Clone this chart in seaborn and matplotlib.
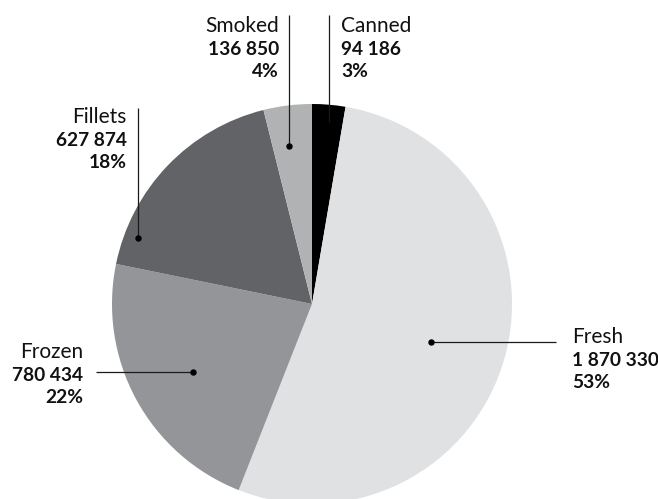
import matplotlib
matplotlib.use("Agg")
import matplotlib.pyplot as plt
import seaborn as sns

sns.set_theme(style="white")
plt.rcParams['font.family'] = ['Lato', 'DejaVu Sans']

# ---- data ----
categories = ["Canned", "Fresh", "Frozen", "Fillets", "Smoked"]
values = [94186, 1870330, 780434, 627874, 136850]
colors = ["#000000", "#e0e1e3", "#939598", "#626366", "#b0b2b4"]

total = sum(values)
percents = [round(v / total * 100) for v in values]

# ---- layout (pixel coords, y from top) ----
W, H = 658, 499
CX, CY, R = 312, 304, 200
# label anchor x, alignment, first baseline, leader line (x0,y0)->(x1,y1) with dot at end
layout = {
    "Canned": dict(x=341, ha="left", y=32, line=((329, 15), (329, 125))),
    "Fresh": dict(x=572, ha="left", y=343, line=((556, 342), (431, 342))),
    "Frozen": dict(x=83, ha="right", y=358, line=((96, 372), (193, 372))),
    "Fillets": dict(x=127, ha="right", y=123, line=((137.5, 108), (137.5, 238))),
    "Smoked": dict(x=279, ha="right", y=32, line=((289, 15), (289, 146))),
}
LINE_GAP = 22.7

fig = plt.figure(figsize=(W / 100, H / 100), dpi=100)
ax = fig.add_axes([0, 0, 1, 1])

Y = lambda y: H - y

ax.pie(values, colors=colors, startangle=90, counterclock=False,
       center=(CX, Y(CY)), radius=R, wedgeprops=dict(linewidth=0))

for cat, v, p in zip(categories, values, percents):
    L = layout[cat]
    (x0, y0), (x1, y1) = L["line"]
    ax.plot([x0, x1], [Y(y0), Y(y1)], color="#1a1a1a", lw=0.9, solid_capstyle="butt")
    ax.plot([x1], [Y(y1)], "o", color="#000000", ms=3.6)
    num = f"{v:,}".replace(",", " ")
    lines = [(cat, "normal", 15), (num, "bold", 13.8), (f"{p}%", "bold", 13.8)]
    for i, (t, w, fs) in enumerate(lines):
        ax.text(L["x"], Y(L["y"] + i * LINE_GAP), t, ha=L["ha"], va="baseline",
                fontsize=fs, fontweight=w, color="#111111")

ax.set_xlim(0, W)
ax.set_ylim(0, H)
ax.set_aspect("equal")
ax.axis("off")

fig.savefig("out.png", dpi=100)
